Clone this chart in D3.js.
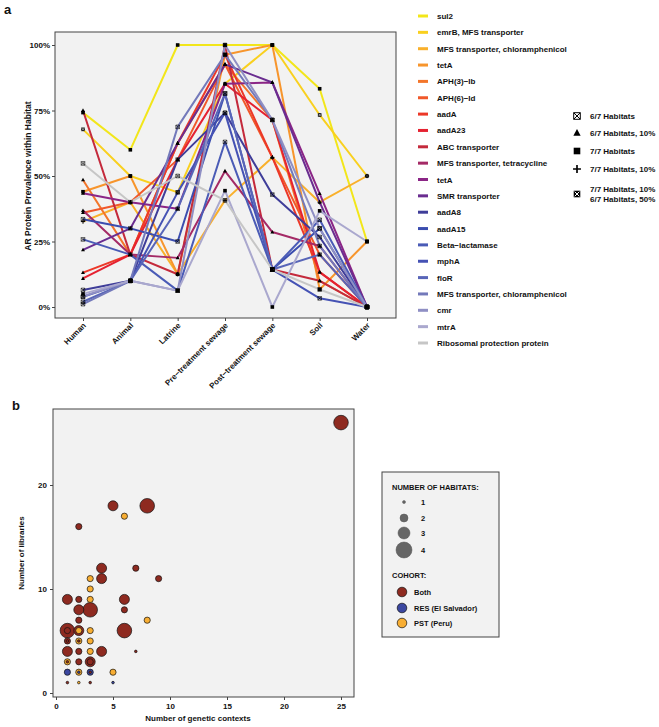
<!DOCTYPE html>
<html><head><meta charset="utf-8">
<script src="https://cdn.jsdelivr.net/npm/d3@7"></script>
<style>
body{margin:0;background:#fff}
text{font-family:"Liberation Sans",Arial,sans-serif;font-weight:bold;fill:#111}
</style></head>
<body><svg id="c" width="659" height="727"></svg>
<script>
// ---------- Panel a data ----------
const habitats = ["Human","Animal","Latrine","Pre\u2212treatment sewage","Post\u2212treatment sewage","Soil","Water"];
const genes = ["sul2","emrB, MFS transporter","MFS transporter, chloramphenicol","tetA","APH(3)\u2212Ib","APH(6)\u2212Id","aadA","aadA23","ABC transporter","MFS transporter, tetracycline","tetA","SMR transporter","aadA8","aadA15","Beta\u2212lactamase","mphA","floR","MFS transporter, chloramphenicol","cmr","mtrA","Ribosomal protection protein"];
const geneColors = ["#F2E61A","#F9D01F","#F9B02B","#F7952C","#F3762B","#F0582A","#EC3828","#E52231","#C42A3C","#A42A66","#8B2586","#6A2D90","#3F3D99","#3B4DAF","#4A5BB6","#4552B4","#5865B8","#7379BA","#8F8FC4","#AAA8CE","#C6C6C6"];
const geneShapes = ["sq","sqx","plus","sq","tri","tri","tri","tri","tri","tri","tri","tri","hour","hour","hour","hour","hour","hour","hour","sq","hour"];
// prevalence (%) per gene, in habitat order
const prevalence = [
  [74.2, 60, 100, 100, 100, 83.3, 25],
  [67.8, 50, 43.75, 85.2, 100, 73.3, 50],
  [32.6, 40, 12.5, 40.7, 57.1, 40, 50],
  [44, 50, 12.5, 96.3, 100, 6.7, 25],
  [48.5, 20, 62.5, 92.6, 71.4, 10, 0],
  [36, 40, 56.25, 92.6, 57.1, 20, 0],
  [13.1, 20, 62.5, 96.3, 57.1, 13.3, 0],
  [10.9, 20, 56.25, 85.2, 71.4, 13.3, 0],
  [75, 20, 12.5, 100, 14.3, 10, 0],
  [36.8, 20, 18.75, 51.9, 28.6, 23.3, 0],
  [43.4, 40, 37.5, 85.2, 85.7, 43.3, 0],
  [21.8, 30, 62.5, 92.6, 85.7, 40, 0],
  [6.5, 10, 56.25, 74.1, 42.9, 26.7, 0],
  [33.5, 30, 25, 81.5, 14.3, 30, 0],
  [25.8, 20, 6.25, 63, 14.3, 33.3, 0],
  [3.9, 10, 43.75, 74.1, 14.3, 3.3, 0],
  [2, 10, 37.5, 81.5, 14.3, 20, 0],
  [1.1, 10, 68.75, 96.3, 71.4, 23.3, 0],
  [4, 10, 6.25, 100, 71.4, 30, 0],
  [5, 10, 6.25, 44.4, 0, 36.7, 25],
  [54.8, 40, 50, 40.7, 14.3, 6.7, 0]
];
const yTicksA = [0, 25, 50, 75, 100];
const shapeLegend = [["hour","6/7 Habitats"],["tri","6/7 Habitats, 10%"],["sq","7/7 Habitats"],["plus","7/7 Habitats, 10%"],["sqx","7/7 Habitats, 10%|6/7 Habitats, 50%"]];

// ---------- Panel b data ----------
const contexts  = [25,8,5,6,2,4,7,3,4,9,3,1,2,3,6,2,3,6,2,8,1,1,2,2,3,6,1,1,2,2,3,1,2,3,4,7,1,1,2,3,3,1,2,2,3,3,5,1,2,3,5];
const libraries = [26,18,18,17,16,12,12,11,11,11,10,9,9,9,9,8,8,8,7,7,6,6,6,6,6,6,5,5,5,5,5,4,4,4,4,4,3,3,3,3,3,2,2,2,2,2,2,1,1,1,1];
const nHabitats = [4,4,3,2,2,3,2,2,3,2,2,3,2,2,3,3,4,2,2,2,4,2,3,2,2,4,2,1,2,1,2,3,2,2,3,1,2,1,2,3,2,2,2,1,2,1,2,1,1,1,1];
const cohort    = ["B","B","B","P","B","B","B","P","B","B","P","B","B","P","B","B","B","B","B","P","B","B","B","P","P","B","B","B","P","B","P","B","B","P","B","B","P","B","B","B","B","R","P","R","R","B","P","B","P","B","R"];
const cohortNames = {B:"Both", R:"RES (El Salvador)", P:"PST (Peru)"};
const cohortColors = {B:"#8E2A20", R:"#3B47A0", P:"#F8AE33"};
const xTicksB = [0,5,10,15,20,25];
const yTicksB = [0,10,20];

const svg = d3.select("#c");

function shape(g, type, x, y, s, col) {
  col = col || "#000";
  if (type === "sq") g.append("rect").attr("x", x-s).attr("y", y-s).attr("width", 2*s).attr("height", 2*s).attr("fill", col);
  else if (type === "tri") g.append("path").attr("d", `M${x},${y-s*1.2}L${x+s*1.1},${y+s*0.8}L${x-s*1.1},${y+s*0.8}Z`).attr("fill", col);
  else if (type === "plus") g.append("path").attr("d", `M${x-s*1.2},${y}H${x+s*1.2}M${x},${y-s*1.2}V${y+s*1.2}`).attr("stroke", col).attr("stroke-width", Math.max(1, s*0.5));
  else if (type === "hour") g.append("path").attr("d", `M${x-s},${y-s}H${x+s}V${y+s}H${x-s}ZM${x-s},${y-s}L${x+s},${y+s}M${x+s},${y-s}L${x-s},${y+s}`).attr("fill","none").attr("stroke", col).attr("stroke-width", Math.max(0.6, s*0.3));
  else if (type === "sqx") {
    g.append("rect").attr("x", x-s).attr("y", y-s).attr("width", 2*s).attr("height", 2*s).attr("fill", col);
    g.append("path").attr("d", `M${x-s*0.7},${y-s*0.7}L${x+s*0.7},${y+s*0.7}M${x+s*0.7},${y-s*0.7}L${x-s*0.7},${y+s*0.7}`).attr("stroke", "#fff").attr("stroke-width", Math.max(0.6, s*0.3));
  }
}

// ---------- Panel a ----------
const A = {l:55, r:396, t:32, b:318};
const xA = d3.scalePoint().domain(habitats).range([83, 367]);
const yA = d3.scaleLinear().domain([0, 100]).range([307, 45]);
svg.append("text").text("a").attr("x", 4).attr("y", 14).style("font-size", "13px");
svg.append("rect").attr("x", A.l).attr("y", A.t).attr("width", A.r-A.l).attr("height", A.b-A.t).attr("fill", "#F2F2F2");
const gA = svg.append("g");
const line = d3.line().x((d,i) => xA(habitats[i])).y(d => yA(d));
prevalence.forEach((vals, gi) => {
  gA.append("path").attr("d", line(vals)).attr("fill","none").attr("stroke", geneColors[gi]).attr("stroke-width", 2).attr("stroke-linejoin","round");
});
prevalence.forEach((vals, gi) => {
  vals.forEach((v, i) => shape(gA, geneShapes[gi], xA(habitats[i]), yA(v), 1.8));
});
svg.append("rect").attr("x", A.l).attr("y", A.t).attr("width", A.r-A.l).attr("height", A.b-A.t).attr("fill", "none").attr("stroke", "#444").attr("stroke-width", 1);
// y axis
const yAxA = svg.append("g").attr("transform", `translate(${A.l},0)`).call(d3.axisLeft(yA).tickValues(yTicksA).tickFormat(d => d + "%").tickSize(3).tickSizeOuter(0));
yAxA.select(".domain").remove();
yAxA.selectAll("line").attr("stroke", "#444");
yAxA.selectAll("text").style("font-size", "8px").style("font-family", '"Liberation Sans",Arial,sans-serif').style("font-weight", "bold").attr("fill", "#111").attr("x", -5);
// x axis
const xAxA = svg.append("g").attr("transform", `translate(0,${A.b})`).call(d3.axisBottom(xA).tickSize(3).tickSizeOuter(0));
xAxA.select(".domain").remove();
xAxA.selectAll("line").attr("stroke", "#444");
xAxA.selectAll("text").style("font-size", "8px").style("font-family", '"Liberation Sans",Arial,sans-serif').style("font-weight", "bold").attr("fill", "#111")
  .attr("text-anchor", "end").attr("dy", null).attr("y", 0).attr("transform", "translate(3,8) rotate(-45)");
svg.append("text").text("AR Protein Prevalence within Habitat").attr("transform", `translate(31,${yA(50)}) rotate(-90)`).attr("text-anchor","middle").style("font-size","8.5px");

// legend genes
const legG = svg.append("g");
genes.forEach((gname, i) => {
  const y = 16 + i * 16.35;
  legG.append("line").attr("x1", 418).attr("x2", 428).attr("y1", y).attr("y2", y).attr("stroke", geneColors[i]).attr("stroke-width", 3);
  legG.append("text").text(gname).attr("x", 437).attr("y", y + 3).style("font-size", "8px");
});
// shape legend
const shY = [116, 133, 151, 169, 194];
shapeLegend.forEach((s, i) => {
  shape(legG, s[0], 577, shY[i], 3.3);
  const parts = s[1].split("|");
  if (parts.length === 1) legG.append("text").text(parts[0]).attr("x", 590).attr("y", shY[i] + 3).style("font-size", "8px");
  else parts.forEach((p, k) => legG.append("text").text(p).attr("x", 590).attr("y", shY[i] - 2 + k * 10).style("font-size", "8px"));
});

// ---------- Panel b ----------
const B = {l:53, r:354, t:409, b:697};
const xB = d3.scaleLinear().domain([0, 25]).range([56, 341]);
const yB = d3.scaleLinear().domain([0, 10]).range([693, 589]);
const rB = d3.scaleOrdinal().domain([1,2,3,4]).range([1.3, 3.1, 5, 7.3]);
svg.append("text").text("b").attr("x", 12).attr("y", 410).style("font-size", "13px");
svg.append("rect").attr("x", B.l).attr("y", B.t).attr("width", B.r-B.l).attr("height", B.b-B.t).attr("fill", "#F2F2F2").attr("stroke", "#444").attr("stroke-width", 1);
const pts = contexts.map((c, i) => ({x: c, y: libraries[i], n: nHabitats[i], c: cohort[i]}));
pts.sort((a, b) => b.n - a.n);
svg.append("g").selectAll("circle").data(pts).join("circle")
  .attr("cx", d => xB(d.x)).attr("cy", d => yB(d.y)).attr("r", d => rB(d.n))
  .attr("fill", d => cohortColors[d.c]).attr("stroke", "#111").attr("stroke-width", 0.7);
const xAxB = svg.append("g").attr("transform", `translate(0,${B.b})`).call(d3.axisBottom(xB).tickValues(xTicksB).tickSize(3).tickSizeOuter(0));
xAxB.select(".domain").remove();
xAxB.selectAll("line").attr("stroke", "#444");
xAxB.selectAll("text").style("font-size", "8px").style("font-family", '"Liberation Sans",Arial,sans-serif').style("font-weight", "bold").attr("fill", "#111");
const yAxB = svg.append("g").attr("transform", `translate(${B.l},0)`).call(d3.axisLeft(yB).tickValues(yTicksB).tickSize(3).tickSizeOuter(0));
yAxB.select(".domain").remove();
yAxB.selectAll("line").attr("stroke", "#444");
yAxB.selectAll("text").style("font-size", "8px").style("font-family", '"Liberation Sans",Arial,sans-serif').style("font-weight", "bold").attr("fill", "#111");
svg.append("text").text("Number of genetic contexts").attr("x", 198).attr("y", 721).attr("text-anchor", "middle").style("font-size", "8px");
svg.append("text").text("Number of libraries").attr("transform", `translate(24,553) rotate(-90)`).attr("text-anchor", "middle").style("font-size", "8px");

// legend b
const lb = svg.append("g");
lb.append("rect").attr("x", 382).attr("y", 472).attr("width", 117).attr("height", 165).attr("fill", "#F2F2F2").attr("stroke", "#444").attr("stroke-width", 1);
lb.append("text").text("NUMBER OF HABITATS:").attr("x", 392).attr("y", 490).style("font-size", "7.5px");
const legR = {1:1.5, 2:4, 3:6, 4:8};
[1,2,3,4].forEach((n, i) => {
  const y = [502, 518, 533, 550][i];
  lb.append("circle").attr("cx", 404).attr("cy", y).attr("r", legR[n]).attr("fill", "#666").attr("stroke", "#555").attr("stroke-width", 0.5);
  lb.append("text").text(n).attr("x", 421).attr("y", y + 3).style("font-size", "7.5px");
});
lb.append("text").text("COHORT:").attr("x", 392).attr("y", 578).style("font-size", "7.5px");
["B","R","P"].forEach((k, i) => {
  const y = [592, 608, 623][i];
  lb.append("circle").attr("cx", 402).attr("cy", y).attr("r", 4.8).attr("fill", cohortColors[k]).attr("stroke", "#111").attr("stroke-width", 0.7);
  lb.append("text").text(cohortNames[k]).attr("x", 414).attr("y", y + 3).style("font-size", "7.5px");
});
</script></body></html>
